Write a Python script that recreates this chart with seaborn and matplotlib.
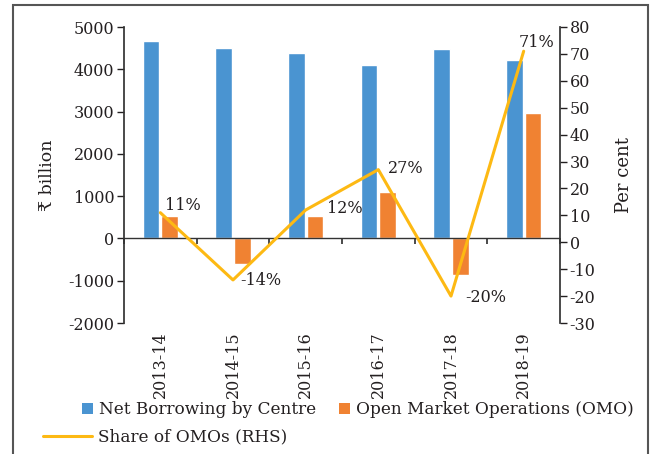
import numpy as np
import pandas as pd
import matplotlib
matplotlib.use("Agg")
import matplotlib.pyplot as plt
import matplotlib.patches as mpatches
from matplotlib.lines import Line2D
from matplotlib.legend_handler import HandlerPatch
import seaborn as sns

years = ["2013-14", "2014-15", "2015-16", "2016-17", "2017-18", "2018-19"]
net_borrowing = [4680, 4510, 4380, 4090, 4480, 4220]
omo = [530, -610, 530, 1090, -870, 2970]
share_omo = [11, -14, 12, 27, -20, 71]
share_labels = ["11%", "-14%", "12%", "27%", "-20%", "71%"]

series_names = ["Net Borrowing by Centre", "Open Market Operations (OMO)"]
line_name = "Share of OMOs (RHS)"

BLUE = "#4A94D1"
ORANGE = "#F08232"
GOLD = "#FDB913"
TXT = "#231F20"
FS = 11.5
LFS = 12.2

sns.set_theme(style="white")
plt.rcParams["font.family"] = ["DejaVu Serif", "DejaVu Sans"]
plt.rcParams["axes.unicode_minus"] = False
plt.rcParams["text.color"] = TXT
plt.rcParams["axes.labelcolor"] = TXT
plt.rcParams["xtick.color"] = TXT
plt.rcParams["ytick.color"] = TXT

df = pd.DataFrame({
    "year": years * 2,
    "value": net_borrowing + omo,
    "series": [series_names[0]] * len(years) + [series_names[1]] * len(years),
})

fig = plt.figure(figsize=(6.5, 4.54), dpi=100)
ax = fig.add_axes([124 / 650, 1 - 323 / 454, (560 - 124) / 650, (323 - 27) / 454])

sns.barplot(data=df, x="year", y="value", hue="series", order=years,
            hue_order=series_names, palette=[BLUE, ORANGE], width=0.52,
            gap=0.12, ax=ax, legend=False, saturation=1)

ax.set_ylim(-2000, 5000)
ax.set_yticks(np.arange(-2000, 5001, 1000))
ax.set_xlim(-0.5, len(years) - 0.5)
ax.set_xlabel("")
ax.set_ylabel("₹ billion", fontsize=12.5, labelpad=9)
ax.tick_params(axis="y", labelsize=FS, length=5, width=1, direction="out", pad=2, left=True)
ax.tick_params(axis="x", labelsize=FS, length=0, rotation=90, pad=6)
for s in ["top", "bottom"]:
    ax.spines[s].set_visible(False)
ax.spines["left"].set_color("#333333")
ax.spines["right"].set_visible(False)
ax.axhline(0, color="#333333", lw=1, zorder=3)

# category boundary ticks on the zero line
sec = ax.secondary_xaxis(2 / 7)
sec.set_xticks(np.arange(len(years) + 1) - 0.5)
sec.set_xticklabels([])
sec.tick_params(axis="x", length=4, direction="out", color="#333333")
sec.spines["bottom"].set_visible(False)

ax2 = ax.twinx()
sns.lineplot(x=np.arange(len(years)), y=share_omo, color=GOLD, lw=2.2, ax=ax2, legend=False)
ax2.set_ylim(-30, 80)
ax2.set_yticks(np.arange(-30, 81, 10))
ax2.set_ylabel("Per cent", fontsize=13, labelpad=14)
ax2.tick_params(axis="y", labelsize=FS, length=5, width=1, direction="out", pad=2, right=True)
for s in ["top", "bottom", "left"]:
    ax2.spines[s].set_visible(False)
ax2.spines["right"].set_color("#333333")

offsets_px = [(5, 7), (7, -1), (21, 1), (10, 1), (14, -1), (-5, 9)]
for i, (val, lab) in enumerate(zip(share_omo, share_labels)):
    dx, dy = offsets_px[i]
    ax2.annotate(lab, (i, val), xytext=(dx * 0.72, dy * 0.72), textcoords="offset points",
                 ha="left", va="center", fontsize=FS, color=TXT)


class RightSquare(HandlerPatch):
    def create_artists(self, legend, orig_handle, xdescent, ydescent, width, height, fontsize, trans):
        s = 8.0
        r = mpatches.Rectangle((width - s - xdescent, -ydescent + (height - s) / 2), s, s,
                               facecolor=orig_handle.get_facecolor(), edgecolor="none", transform=trans)
        return [r]


h1 = [mpatches.Patch(color=BLUE), mpatches.Patch(color=ORANGE)]
leg1 = fig.legend(h1, series_names, loc="center left", bbox_to_anchor=(76 / 650, 1 - 410 / 454),
                  ncol=2, frameon=False, fontsize=LFS, handlelength=1.0, handletextpad=0.35,
                  columnspacing=1.0, handler_map={mpatches.Patch: RightSquare()},
                  borderaxespad=0, borderpad=0)
h2 = [Line2D([], [], color=GOLD, lw=2.2)]
leg2 = fig.legend(h2, [line_name], loc="center left", bbox_to_anchor=(43 / 650, 1 - 437 / 454),
                  frameon=False, fontsize=LFS, handlelength=2.9, handletextpad=0.35,
                  borderaxespad=0, borderpad=0)

frame = mpatches.Rectangle((13 / 650, -0.01), (648 - 13) / 650, 1 - 5 / 454 + 0.01,
                           transform=fig.transFigure, fill=False, edgecolor="#555555", lw=1.5)
fig.add_artist(frame)

fig.savefig("out.png", dpi=100)
